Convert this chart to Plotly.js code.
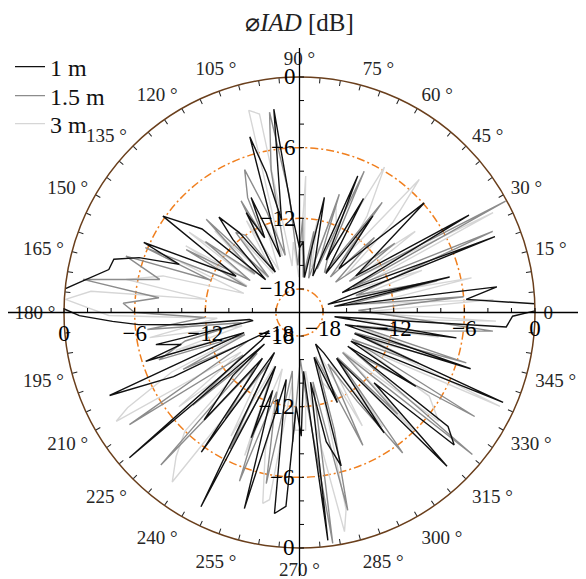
<!DOCTYPE html>
<html><head><meta charset="utf-8">
<script src="https://cdn.plot.ly/plotly-3.0.1.min.js"></script>
<style>html,body{margin:0;padding:0;background:#fff}#chart{width:586px;height:579px}</style>
</head><body><div id="chart"></div>
<script>
const seriesNames = ['1 m', '1.5 m', '3 m'];
const seriesColors = ['#111111', '#8c8c8c', '#d6d6d6'];

// [angle in degrees, IAD in dB]
const iad1m = [[1.6, 2.0], [4.5, -5.8], [7.4, -3.1], [10, -17], [13.3, -6.9], [16, -17.5], [21.2, -2.2], [25, -16], [29.9, -3.4], [33, -14.3], [41.3, -5.9], [44, -12], [48, -15], [52.8, -9.7], [56, -16], [60.7, -8.9], [63, -15], [66.9, -7.4], [70, -16.7], [77.8, -10.0], [82, -17], [87, -14], [90, -14.5], [94, -12], [97.2, -2.6], [101, -12], [103.4, -7.8], [105.8, -4.5], [109, -15], [112.8, -9.4], [115, -13], [118.1, -10.4], [121, -16], [125, -14], [127, -11.5], [130.2, -9.4], [132.4, -11.6], [136, -16], [139.4, -9.1], [144.8, -5.8], [150.2, -13.8], [155.8, -5.5], [158.2, -9.0], [161.1, -5.6], [164, -3.6], [167.3, -3.4], [172.3, -1.1], [174.4, 0.1], [175.4, 1.3], [177.4, 0.9], [179, 0.1], [180.8, -1.3], [182.7, -4.1], [184.3, -6.3], [186, -10], [188, -15.7], [190, -16], [192.6, -7.5], [195.1, -9.6], [197.6, -6.3], [200, -15], [203.6, -2.4], [207, -8], [211, -17], [216, -16], [220.5, -1.0], [222, -16], [223.4, -12.2], [228.4, -7.8], [231, -15], [234.9, -5.5], [238, -16], [243.1, -1.5], [246, -15], [248.9, -8.6], [251, -13], [254.3, -2.7], [258.8, -14.2], [262.9, -2.8], [266, -3.5], [268, -12], [270.8, -9.5], [274, -15], [277.1, -0.5], [279, -14], [281.7, -8.8], [285.2, -6.5], [288, -16], [292.8, -11.7], [297, -17], [301, -16], [305.1, -7.5], [309, -15], [313.8, -1.9], [316.7, -11.3], [319.4, -2.7], [322.5, -4.1], [325, -15], [327.6, -8.3], [330.8, -15], [336.2, -1.1], [339, -15], [341.8, -4.7], [345, -16], [350.8, -6.5], [353, -17], [356, -2.4], [359, -1.9]];

const iad15m = [[2, -15], [5.5, -6], [9, -16], [13, -8], [17, -15], [22.8, -2.2], [25.5, -15], [28.4, -0.1], [32, -15], [36, -10], [40, -16], [45, -11], [49, -16], [53.1, -8.3], [55, -13.2], [58, -16], [62, -15], [65.4, -6.8], [68, -16], [71.4, -9.4], [75, -17], [80, -13], [84, -17], [88, -12], [92, -16], [95, -10], [98.5, -2.8], [101.3, -7.7], [104, -15], [108, -11], [111, -7.0], [114.3, -9.3], [115.6, -12.8], [117.6, -9.3], [121, -16], [125, -12], [128.5, -11.3], [131, -16], [135, -8.8], [139, -15], [143, -10], [147, -15], [151, -9], [154, -15], [157.2, -5.8], [160, -12], [162, -4.5], [166.7, -7.8], [171.3, -1.4], [174, -8], [177, -5], [180, -6], [183, -12], [186.4, -7.0], [190, -15], [194, -10], [198.6, -7.4], [202, -15], [206, -9], [209, -15], [213.4, -2.7], [217, -14], [221, -8], [224, -15], [227.7, -2.5], [231, -14], [235, -9], [239, -15], [243, -7], [246, -14], [250.4, -4.8], [254, -13], [259, -5.2], [263, -15], [267, -9], [271, -16], [275, -12], [278.2, -0.2], [281, -14], [283.7, -2.7], [286.5, -9.6], [290, -16], [295.5, -7.5], [299, -15], [303, -11], [306.3, -5.2], [310, -15], [314, -8], [317, -15], [320.6, -1.0], [324, -14], [329.3, -2.7], [333, -15], [337, -9], [340, -15], [343.2, -5.2], [347, -15], [351, -10], [354.5, -3.5], [358, -12]];

const iad3m = [[0, -15], [3.8, -3.5], [7, -14], [11.4, -5.1], [15, -15], [19, -9], [23, -15], [27.3, -1.5], [31, -14], [35, -8], [39, -15], [44, -9], [48, -4.8], [51, -14], [55, -10], [59.7, -5.7], [63, -15], [67, -12], [71.2, -10.4], [75, -16], [79, -12], [83, -17], [87.4, -8.4], [91, -17], [95, -14], [99, -16], [101.4, -2.8], [104.1, -2.3], [107, -15], [111, -12], [116, -16], [120, -11], [124, -16], [128, -12], [132, -16], [136, -10], [140, -15], [144, -8.4], [147, -15], [149.6, -8.8], [153, -15], [157, -9], [161, -15], [165, -8], [169.2, -5], [172, -12], [174.2, -2.2], [176.8, -0.1], [180.9, -3.8], [184, -13], [189.5, -7.1], [193, -15], [197, -9], [201, -15], [205, -8], [209, -3.3], [210.7, -1.9], [214, -14], [218, -7], [222, -15], [226, -6], [229.4, -3.9], [233.1, -2.0], [237, -14], [241, -8], [245, -15], [249, -7], [253, -15], [256, -8], [259.1, -3.5], [260.9, -3.9], [264, -14], [268, -10], [273, -10], [276, -15], [278.2, -10.1], [281.6, -1.0], [283.3, -2.8], [287, -14], [291, -13], [295, -16], [299, -9], [302, -15], [306, -8], [310, -15], [314, -6], [318, -15], [322, -5], [327.2, -6.9], [331, -14], [334.9, -1.2], [338, -14], [342, -7], [346, -15], [350, -8], [354, -15], [357.5, -3.3]];

const radialTickVals = [-20, -18, -16, -14, -12, -10, -8, -6, -4, -2, 0];
const radialTickText = ['', '\u221218', '', '', '\u221212', '', '', '\u22126', '', '', '0'];
const gridVals = [-18, -12, -6, 0];
const angleLabelVals = [0, 15, 30, 45, 60, 75, 90, 105, 120, 135, 150, 165, 180, 195, 210, 225, 240, 255, 270, 285, 300, 315, 330, 345];
const angleLabelText = ['0', '15 °', '30 °', '45 °', '60 °', '75 °', '90 °', '105 °', '120 °', '135 °', '150 °', '165 °', '180 °', '195 °', '210 °', '225 °', '240 °', '255 °', '270 °', '285 °', '300 °', '315 °', '330 °', '345 °'];

const minorAngles = [];
for (let a = 0; a < 360; a += 5) minorAngles.push(a);

const W = 586, H = 579;
const cx = 299.5, cy = 312.5, R = 235.5;
const dom = {x: [(cx - R) / W, (cx + R) / W], y: [1 - (cy + R) / H, 1 - (cy - R) / H]};
const serif = 'Liberation Serif';
const legendY = [67, 96, 124];
const legendIds = ['legend', 'legend2', 'legend3'];

function closed(pairs, idx) {
  const arr = pairs.map(p => p[idx]);
  arr.push(pairs[0][idx]);
  return arr;
}

const data = [iad1m, iad15m, iad3m].map((s, i) => ({
  type: 'scatterpolar', mode: 'lines', subplot: 'polar', legend: legendIds[i],
  theta: closed(s, 0), r: closed(s, 1), name: seriesNames[i],
  line: {color: seriesColors[i], width: 1.4}, cliponaxis: false, hoverinfo: 'skip'
})).reverse();

['polar2', 'polar3', 'polar4', 'polar5'].forEach(p => data.push({type: 'scatterpolar', subplot: p, r: [], theta: [], showlegend: false, hoverinfo: 'skip'}));

function radial(angle, side, tickangle) {
  return {range: [-20, 0], angle: angle, side: side, tickangle: tickangle, tickvals: radialTickVals, ticktext: radialTickText,
    ticks: 'inside', ticklen: 4, tickcolor: '#000', showline: false, showgrid: false,
    tickfont: {family: serif, size: 23, color: '#000'}};
}

function legendAt(py) {
  return {x: 10 / W, y: 1 - py / H, xanchor: 'left', yanchor: 'middle', bgcolor: 'rgba(0,0,0,0)',
    font: {family: serif, size: 24, color: '#111'}};
}

const layout = {
  width: W, height: H, margin: {l: 0, r: 0, t: 0, b: 0}, paper_bgcolor: '#fff',
  font: {family: serif},
  title: {text: '\u2300<i>IAD</i> [dB]', x: cx / W, xanchor: 'center', y: 1 - 22 / H, yanchor: 'middle', font: {family: serif, size: 25, color: '#222'}},
  showlegend: true,
  legend: legendAt(legendY[0]), legend2: legendAt(legendY[1]), legend3: legendAt(legendY[2]),
  polar: {domain: dom, bgcolor: 'rgba(0,0,0,0)',
    radialaxis: {range: [-20, 0], tickvals: gridVals, showticklabels: false, ticks: '', showline: false, showgrid: true, gridcolor: '#f07f1e', griddash: '8px,3px,2px,3px', gridwidth: 1.5},
    angularaxis: {rotation: 0, direction: 'counterclockwise', tickvals: angleLabelVals, ticktext: angleLabelText, ticks: 'outside', ticklen: 4, tickcolor: 'rgba(0,0,0,0)', showline: true, linecolor: '#6a3f1c', linewidth: 1.5, showgrid: false, tickfont: {family: serif, size: 19, color: '#262626'}}},
  polar2: {domain: dom, bgcolor: 'rgba(0,0,0,0)', radialaxis: radial(0, 'clockwise', 0),
    angularaxis: {tickvals: minorAngles, ticks: 'inside', ticklen: 5, tickcolor: '#222', showticklabels: false, showline: false, showgrid: false}},
  polar3: {domain: dom, bgcolor: 'rgba(0,0,0,0)', radialaxis: radial(90, 'counterclockwise', 90), angularaxis: {visible: false}},
  polar4: {domain: dom, bgcolor: 'rgba(0,0,0,0)', radialaxis: radial(180, 'counterclockwise', 180), angularaxis: {visible: false}},
  polar5: {domain: dom, bgcolor: 'rgba(0,0,0,0)', radialaxis: radial(270, 'clockwise', -90), angularaxis: {visible: false}},
  shapes: [
    {type: 'line', xref: 'paper', yref: 'paper', x0: cx / W, x1: cx / W, y0: 1 - 48 / H, y1: 1 - 576 / H, line: {color: '#000', width: 1.3}},
    {type: 'line', xref: 'paper', yref: 'paper', x0: 8 / W, x1: 578 / W, y0: 1 - cy / H, y1: 1 - cy / H, line: {color: '#000', width: 1.3}}
  ]
};

Plotly.newPlot('chart', data, layout, {staticPlot: true});
</script></body></html>
